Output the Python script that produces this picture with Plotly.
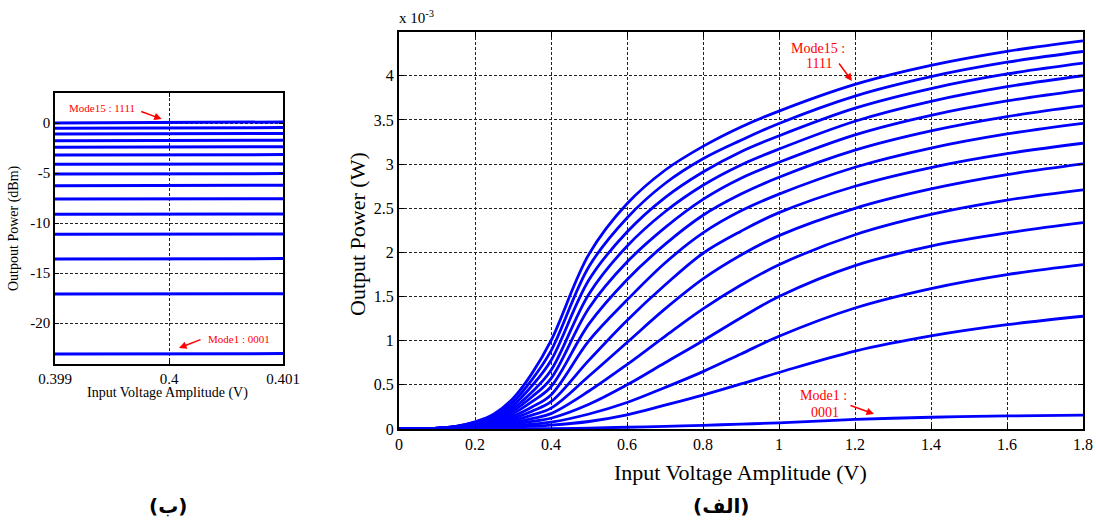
import plotly.graph_objects as go

# ---------------- data ----------------
# Right panel (الف): output power (x 1e-3 W) vs input voltage amplitude (V)
voltage = [0, 0.1, 0.15, 0.2, 0.25, 0.3, 0.35, 0.4, 0.5, 0.6, 0.7, 0.8, 0.9, 1.0, 1.2, 1.4, 1.6, 1.8]

power_mode15 = [0, 0.010, 0.030, 0.080, 0.170, 0.345, 0.630, 1.000, 1.98, 2.55, 2.93, 3.20, 3.42, 3.60, 3.902, 4.117, 4.276, 4.395]
power_mode14 = [0, 0.010, 0.029, 0.074, 0.153, 0.305, 0.560, 0.885, 1.84, 2.39, 2.78, 3.06, 3.27, 3.46, 3.770, 3.990, 4.153, 4.275]
power_mode13 = [0, 0.009, 0.027, 0.068, 0.138, 0.268, 0.490, 0.776, 1.69, 2.23, 2.62, 2.91, 3.14, 3.32, 3.633, 3.855, 4.020, 4.143]
power_mode12 = [0, 0.009, 0.026, 0.062, 0.124, 0.235, 0.420, 0.665, 1.53, 2.07, 2.46, 2.76, 2.99, 3.17, 3.485, 3.710, 3.876, 4.000]
power_mode11 = [0, 0.008, 0.025, 0.056, 0.110, 0.205, 0.365, 0.571, 1.37, 1.89, 2.28, 2.60, 2.84, 3.02, 3.331, 3.552, 3.715, 3.838]
power_mode10 = [0, 0.008, 0.023, 0.050, 0.097, 0.176, 0.310, 0.479, 1.19, 1.69, 2.09, 2.42, 2.66, 2.85, 3.157, 3.375, 3.537, 3.658]
power_mode9 = [0, 0.007, 0.021, 0.044, 0.083, 0.146, 0.250, 0.386, 1.00, 1.46, 1.88, 2.22, 2.47, 2.66, 2.964, 3.181, 3.341, 3.461]
power_mode8 = [0, 0.007, 0.019, 0.038, 0.070, 0.121, 0.202, 0.309, 0.78, 1.23, 1.63, 1.99, 2.24, 2.45, 2.749, 2.961, 3.118, 3.236]
power_mode7 = [0, 0.006, 0.017, 0.032, 0.058, 0.097, 0.158, 0.236, 0.60, 0.98, 1.36, 1.70, 1.97, 2.19, 2.499, 2.718, 2.880, 3.002]
power_mode6 = [0, 0.006, 0.015, 0.026, 0.045, 0.074, 0.118, 0.174, 0.43, 0.73, 1.05, 1.36, 1.63, 1.86, 2.200, 2.430, 2.592, 2.708]
power_mode5 = [0, 0.005, 0.013, 0.020, 0.034, 0.054, 0.085, 0.122, 0.28, 0.50, 0.75, 1.00, 1.26, 1.50, 1.850, 2.070, 2.220, 2.336]
power_mode4 = [0, 0.004, 0.011, 0.014, 0.024, 0.036, 0.054, 0.077, 0.17, 0.30, 0.47, 0.65, 0.85, 1.05, 1.370, 1.590, 1.748, 1.861]
power_mode3 = [0, 0.003, 0.006, 0.010, 0.016, 0.022, 0.032, 0.044, 0.085, 0.16, 0.27, 0.384, 0.51, 0.64, 0.882, 1.054, 1.181, 1.277]
power_mode1 = [0, 0.001, 0.001, 0.001, 0.002, 0.002, 0.003, 0.005, 0.010, 0.020, 0.030, 0.042, 0.055, 0.070, 0.108, 0.133, 0.148, 0.158]

right_curves = [power_mode15, power_mode14, power_mode13, power_mode12, power_mode11,
                power_mode10, power_mode9, power_mode8, power_mode7, power_mode6,
                power_mode5, power_mode4, power_mode3, power_mode1]

# Left panel (ب): output power (dBm) around 0.4 V, modes 15 .. 1
zoom_voltage = [0.399, 0.401]
dbm_at_start = [0.0, -0.53, -1.10, -1.77, -2.43, -3.20, -4.13, -5.10, -6.27, -7.60, -9.13, -11.13, -13.60, -17.10, -23.10]
dbm_at_end = [0.10, -0.46, -1.04, -1.72, -2.38, -3.16, -4.09, -5.06, -6.23, -7.57, -9.10, -11.10, -13.56, -17.08, -23.06]

right_xticks = [0, 0.2, 0.4, 0.6, 0.8, 1.0, 1.2, 1.4, 1.6, 1.8]
right_xticktext = ["0", "0.2", "0.4", "0.6", "0.8", "1", "1.2", "1.4", "1.6", "1.8"]
right_yticks = [0, 0.5, 1, 1.5, 2, 2.5, 3, 3.5, 4]
right_yticktext = ["0", "0.5", "1", "1.5", "2", "2.5", "3", "3.5", "4"]
left_xticks = [0.399, 0.4, 0.401]
left_xticktext = ["0.399", "0.4", "0.401"]
left_yticks = [-20, -15, -10, -5, 0]
left_yticktext = ["-20", "-15", "-10", "-5", "0"]

# ---------------- figure ----------------
W, H = 1096, 524
BLUE = "#0000ff"
RED = "#ff0000"
SERIF = "Liberation Serif, Times New Roman, serif"

fig = go.Figure()

for d0, d1 in zip(dbm_at_start, dbm_at_end):
    fig.add_trace(go.Scatter(x=zoom_voltage, y=[d0, d1], mode="lines",
                             line=dict(color=BLUE, width=3),
                             xaxis="x", yaxis="y", hoverinfo="skip"))

for curve in right_curves:
    fig.add_trace(go.Scatter(x=voltage, y=curve, mode="lines",
                             line=dict(color=BLUE, width=2.8, shape="spline", smoothing=1.0),
                             xaxis="x2", yaxis="y2", hoverinfo="skip"))

def px_x(p):
    return p / W

def px_y(p):
    return 1 - p / H

grid_common = dict(showgrid=True, gridcolor="#222222", griddash="3px,2px", gridwidth=1,
                   zeroline=False, showline=True, linecolor="black", mirror="allticks",
                   ticks="inside", tickcolor="black", automargin=False)

fig.update_layout(
    width=W, height=H,
    margin=dict(l=0, r=0, t=0, b=0, pad=0, autoexpand=False),
    paper_bgcolor="white", plot_bgcolor="white",
    showlegend=False,
    font=dict(family=SERIF, color="black"),
    xaxis=dict(domain=[px_x(55), px_x(283)], range=[0.399, 0.401], anchor="y",
               tickvals=left_xticks, ticktext=left_xticktext,
               tickfont=dict(family=SERIF, size=15), linewidth=1.6, ticklen=4, tickwidth=1,
               **grid_common),
    yaxis=dict(domain=[px_y(364), px_y(93)], range=[-24.1, 3.0], anchor="x",
               tickvals=left_yticks, ticktext=left_yticktext,
               tickfont=dict(family=SERIF, size=15), linewidth=1.6, ticklen=4, tickwidth=1,
               **grid_common),
    xaxis2=dict(domain=[px_x(399), px_x(1083)], range=[0, 1.8], anchor="y2",
                tickvals=right_xticks, ticktext=right_xticktext,
                tickfont=dict(family=SERIF, size=16), linewidth=2.2, ticklen=5, tickwidth=1.2,
                **grid_common),
    yaxis2=dict(domain=[px_y(429), px_y(31.6)], range=[0, 4.5], anchor="x2",
                tickvals=right_yticks, ticktext=right_yticktext,
                tickfont=dict(family=SERIF, size=16), linewidth=2.2, ticklen=5, tickwidth=1.2,
                **grid_common),
)

ann = []
# axis titles (right)
ann.append(dict(text="Input Voltage Amplitude (V)", x=px_x(740), y=px_y(472), xref="paper", yref="paper",
                showarrow=False, font=dict(family=SERIF, size=22), xanchor="center", yanchor="middle"))
ann.append(dict(text="Output Power (W)", x=px_x(357), y=px_y(234), xref="paper", yref="paper",
                showarrow=False, textangle=-90, font=dict(family=SERIF, size=22),
                xanchor="center", yanchor="middle"))
ann.append(dict(text="x 10<sup>-3</sup>", x=px_x(397), y=px_y(17), xref="paper", yref="paper",
                showarrow=False, font=dict(family=SERIF, size=15), xanchor="left", yanchor="middle"))
# axis titles (left)
ann.append(dict(text="Input Voltage Amplitude (V)", x=px_x(167), y=px_y(393), xref="paper", yref="paper",
                showarrow=False, font=dict(family=SERIF, size=14), xanchor="center", yanchor="middle"))
ann.append(dict(text="Outpout Power (dBm)", x=px_x(14), y=px_y(228), xref="paper", yref="paper",
                showarrow=False, textangle=-90, font=dict(family=SERIF, size=14),
                xanchor="center", yanchor="middle"))
# captions
ann.append(dict(text="<b>(ب)</b>", x=px_x(168), y=px_y(506), xref="paper", yref="paper",
                showarrow=False, font=dict(family="DejaVu Sans", size=20), xanchor="center", yanchor="middle"))
ann.append(dict(text="<b>(الف)</b>", x=px_x(721), y=px_y(506), xref="paper", yref="paper",
                showarrow=False, font=dict(family="DejaVu Sans", size=20), xanchor="center", yanchor="middle"))

# red mode labels (right panel)
rf = dict(family=SERIF, size=14, color=RED)
ann.append(dict(text="Mode15 :", x=1.1026, y=4.305, xref="x2", yref="y2", showarrow=False, font=rf))
ann.append(dict(text="1111", x=1.105, y=4.136, xref="x2", yref="y2", showarrow=False, font=rf))
ann.append(dict(text="", x=1.192, y=3.94, xref="x2", yref="y2", showarrow=True, ax=-14, ay=-19,
                arrowhead=2, arrowsize=1, arrowwidth=1.5, arrowcolor=RED))
ann.append(dict(text="Mode1 :", x=1.117, y=0.384, xref="x2", yref="y2", showarrow=False, font=rf))
ann.append(dict(text="0001", x=1.12, y=0.192, xref="x2", yref="y2", showarrow=False, font=rf))
ann.append(dict(text="", x=1.25, y=0.17, xref="x2", yref="y2", showarrow=True, ax=-25, ay=-9,
                arrowhead=2, arrowsize=1, arrowwidth=1.5, arrowcolor=RED))

# red mode labels (left panel)
lf = dict(family=SERIF, size=11, color=RED)
ann.append(dict(text="Mode15 : 1111", x=0.399408, y=1.53, xref="x", yref="y", showarrow=False, font=lf))
ann.append(dict(text="", x=0.399936, y=0.4, xref="x", yref="y", showarrow=True, ax=-22, ay=-8,
                arrowhead=2, arrowsize=1, arrowwidth=1.5, arrowcolor=RED))
ann.append(dict(text="Mode1 : 0001", x=0.40061, y=-21.6, xref="x", yref="y", showarrow=False, font=lf))
ann.append(dict(text="", x=0.400088, y=-22.5, xref="x", yref="y", showarrow=True, ax=23, ay=-9,
                arrowhead=2, arrowsize=1, arrowwidth=1.5, arrowcolor=RED))

fig.update_layout(annotations=ann)
fig.write_html("out.html")
